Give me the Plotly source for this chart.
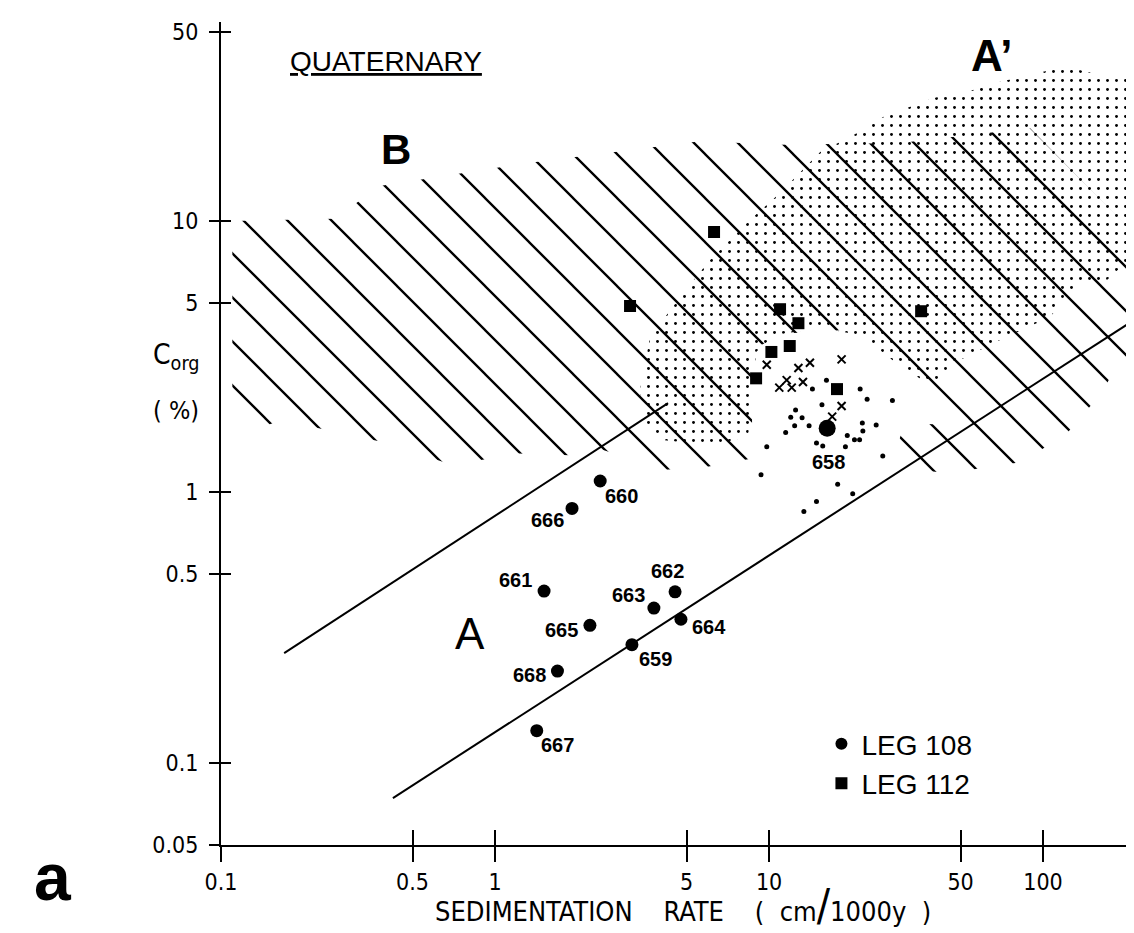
import math
import plotly.graph_objects as go

# ---------------- data ----------------
# LEG 108 sites (sedimentation rate cm/1000y, Corg %)
leg108_ids = ["660", "666", "661", "662", "663", "664", "665", "659", "668", "667", "658"]
leg108_rate = [2.42, 1.91, 1.51, 4.54, 3.80, 4.77, 2.22, 3.16, 1.69, 1.42, 16.3]
leg108_corg = [1.10, 0.871, 0.432, 0.429, 0.374, 0.340, 0.323, 0.274, 0.219, 0.132, 1.72]
leg108_size = [13, 13, 13, 13, 13, 13, 13, 13, 13, 13, 17]
# label offsets (px) of the site numbers relative to the points
label_dx = [21, -25, -29, -8, -25, 28, -28, 24, -28, 21, 1]
label_dy = [15, 12, -11, -21, -13, 8, 5, 14, 4, 14, 34]

# LEG 112 sites
leg112_rate = [6.30, 3.11, 10.97, 12.8, 11.9, 10.2, 8.97, 17.7, 35.9]
leg112_corg = [9.11, 4.86, 4.73, 4.20, 3.46, 3.29, 2.63, 2.40, 4.65]

# individual samples of site 658 (small dots) and crosses
s658_dot_rate = [16.2, 14.4, 21.5, 22.8, 28.2, 15.6, 12.5, 12.0, 13.2, 12.4, 14.0, 11.5, 19.3,
                 21.9, 24.6, 22.0, 14.9, 15.7, 19.0, 9.81, 26.0, 9.35, 17.8, 14.9, 20.2, 13.4,
                 20.5, 21.4]
s658_dot_corg = [2.59, 2.40, 2.40, 2.20, 2.18, 2.10, 2.01, 1.89, 1.88, 1.76, 1.76, 1.66, 1.62,
                 1.80, 1.77, 1.68, 1.52, 1.48, 1.47, 1.47, 1.36, 1.16, 1.07, 0.924, 0.986, 0.849,
                 1.56, 1.56]
cross_rate = [9.81, 12.8, 14.1, 18.4, 11.6, 10.9, 12.1, 13.3, 18.4, 17.0]
cross_corg = [2.95, 2.87, 3.00, 3.09, 2.59, 2.43, 2.43, 2.55, 2.08, 1.90]

# boundaries of field A
bandA_upper_rate = [0.170, 4.28]
bandA_upper_corg = [0.255, 2.13]
bandA_lower_rate = [0.424, 226]
bandA_lower_corg = [0.0745, 4.46]

# outline of hatched field B
regionB_rate = [0.11, 0.11, 0.258, 0.384, 1.343, 5.60, 10.96, 30.1, 89.7, 226, 226, 186, 166,
                123, 83.8, 63.0, 48.1, 34.1, 29.3, 31.3, 45.8, 23.4, 18.2, 11.9, 9.27, 8.67,
                8.67, 5.89, 4.17, 2.48, 1.88, 1.22, 0.697, 0.406, 0.265, 0.168, 0.130]
regionB_corg = [2.09, 10.0, 10.2, 13.5, 16.4, 19.7, 19.1, 19.4, 22.0, 8.51, 3.34, 2.99, 2.36,
                1.66, 1.29, 1.25, 1.17, 1.21, 1.47, 1.80, 1.77, 3.55, 3.96, 3.86, 3.48, 2.18,
                1.33, 1.24, 1.21, 1.43, 1.37, 1.39, 1.26, 1.52, 1.66, 1.85, 1.69]

# outline of stippled field A'
regionA2_rate = [3.38, 3.68, 4.85, 6.09, 8.53, 10.96, 15.4, 19.8, 26.1, 39.7, 55.6, 69.7, 100,
                 122, 161, 226, 226, 166, 133, 106, 69.7, 49.8, 38.7, 28.8, 21.5, 15.4, 10.5,
                 8.97, 8.67, 8.38, 6.09, 4.00, 3.53]
regionA2_corg = [2.38, 3.73, 5.42, 7.18, 10.1, 12.7, 18.0, 20.4, 24.2, 28.4, 30.4, 32.6, 35.5,
                 37.0, 34.6, 33.1, 7.82, 5.90, 5.81, 4.43, 3.64, 3.07, 2.48, 3.02, 3.80, 4.03,
                 3.80, 3.29, 2.18, 1.60, 1.49, 1.56, 1.77]

x_ticks = [0.1, 0.5, 1, 5, 10, 50, 100]
x_ticktext = ["0.1", "0.5", "1", "5", "10", "50", "100"]
y_ticks = [0.05, 0.1, 0.5, 1, 5, 10, 50]
y_ticktext = ["0.05", "0.1", "0.5", "1", "5", "10", "50"]

# ---------------- figure ----------------
NARROW = "DejaVu Sans Condensed, Liberation Sans Narrow, Arial, sans-serif"
SANS = "Liberation Sans, Arial, sans-serif"
X_RANGE = [-1.0, 2.310]
Y_RANGE = [-1.301, 1.734]
HATCH = 44 / math.sqrt(2)   # pattern cell so the hatch repeats every 44 px

fig = go.Figure()

fig.add_trace(go.Scatter(
    x=regionA2_rate, y=regionA2_corg, mode="lines", line=dict(width=0, color="rgba(0,0,0,0)"),
    fill="toself", fillcolor="rgba(0,0,0,0)",
    fillpattern=dict(shape=".", size=9, solidity=0.08, fgcolor="black", fgopacity=1),
    hoverinfo="skip", showlegend=False))

fig.add_trace(go.Scatter(
    x=regionB_rate, y=regionB_corg, mode="lines", line=dict(width=0, color="rgba(0,0,0,0)"),
    fill="toself", fillcolor="rgba(0,0,0,0)",
    fillpattern=dict(shape="\\", size=HATCH, solidity=0.075, fgcolor="black", fgopacity=1),
    hoverinfo="skip", showlegend=False))

for xs, ys in [(bandA_upper_rate, bandA_upper_corg), (bandA_lower_rate, bandA_lower_corg)]:
    fig.add_trace(go.Scatter(x=xs, y=ys, mode="lines", line=dict(color="black", width=2),
                             hoverinfo="skip", showlegend=False))

fig.add_trace(go.Scatter(x=s658_dot_rate, y=s658_dot_corg, mode="markers",
                         marker=dict(color="black", size=5, opacity=1), showlegend=False))
fig.add_trace(go.Scatter(x=cross_rate, y=cross_corg, mode="markers",
                         marker=dict(symbol="x-thin", size=8, opacity=1,
                                     line=dict(color="black", width=2)),
                         showlegend=False))

fig.add_trace(go.Scatter(x=leg108_rate, y=leg108_corg, mode="markers", name="LEG 108",
                         legendgroup="a",
                         marker=dict(color="black", size=leg108_size, symbol="circle",
                                     opacity=1, line=dict(width=0)),
                         showlegend=True))
fig.add_trace(go.Scatter(x=leg112_rate, y=leg112_corg, mode="markers", name="LEG 112",
                         legendgroup="b",
                         marker=dict(color="black", size=12, symbol="square", opacity=1,
                                     line=dict(width=0)),
                         showlegend=True))

# dummy trace so the overlaid axes (crossing ticks) are drawn
fig.add_trace(go.Scatter(x=[None], y=[None], xaxis="x2", yaxis="y2", showlegend=False))

annotations = []
for i, lab in enumerate(leg108_ids):
    annotations.append(dict(
        x=math.log10(leg108_rate[i]), y=math.log10(leg108_corg[i]), xref="x", yref="y",
        text=lab, showarrow=False, xanchor="center", yanchor="middle",
        xshift=label_dx[i], yshift=-label_dy[i],
        font=dict(family=SANS, size=20, color="black", weight="bold")))


def px2paper(px, py):
    return (px - 221) / 907.0, (845 - py) / 823.0


def add_text(px, py, text, size, family=SANS, bold=False):
    xp, yp = px2paper(px, py)
    annotations.append(dict(x=xp, y=yp, xref="paper", yref="paper", text=text, showarrow=False,
                            xanchor="center", yanchor="middle",
                            font=dict(family=family, size=size, color="black",
                                      weight="bold" if bold else "normal")))


add_text(386, 62, "<u>QUATERNARY</u>", 28)
add_text(396, 149, "B", 42, bold=True)
add_text(992, 56, "A’", 44, bold=True)
add_text(470, 633, "A", 44)
add_text(53, 877, "a", 66, bold=True)
add_text(176, 357, "C<sub>org</sub>", 28, family=NARROW)
add_text(176, 410, "( %)", 25, family=NARROW)
add_text(683, 906,
         'SEDIMENTATION    RATE    (  cm<span style="font-size:44px">/</span>1000y  )',
         27, family=NARROW)

axis_common = dict(type="log", showgrid=False, zeroline=False, tickcolor="black", tickwidth=2)

fig.update_layout(
    width=1126, height=925,
    margin=dict(l=213, r=6, t=14, b=88),
    paper_bgcolor="white", plot_bgcolor="white",
    showlegend=True,
    legend=dict(x=0.662, y=0.153, xanchor="left", yanchor="top",
                font=dict(family=SANS, size=28, color="black"),
                bgcolor="rgba(0,0,0,0)", itemsizing="constant", tracegroupgap=0),
    xaxis=dict(**axis_common, range=X_RANGE, tickvals=x_ticks, ticktext=x_ticktext,
               ticks="outside", ticklen=15, showline=True, linecolor="black", linewidth=2,
               tickfont=dict(family=NARROW, size=23, color="black")),
    yaxis=dict(**axis_common, range=Y_RANGE, tickvals=y_ticks, ticktext=y_ticktext,
               ticks="outside", ticklen=10, showline=True, linecolor="black", linewidth=2,
               ticklabelstandoff=6,
               tickfont=dict(family=NARROW, size=23, color="black")),
    xaxis2=dict(**axis_common, range=X_RANGE, tickvals=x_ticks, overlaying="x", anchor="y",
                side="bottom", ticks="inside", ticklen=15, showticklabels=False, showline=False),
    yaxis2=dict(**axis_common, range=Y_RANGE, tickvals=y_ticks, overlaying="y", anchor="x",
                side="left", ticks="inside", ticklen=10, showticklabels=False, showline=False),
    annotations=annotations,
)

fig.write_html("out.html")
